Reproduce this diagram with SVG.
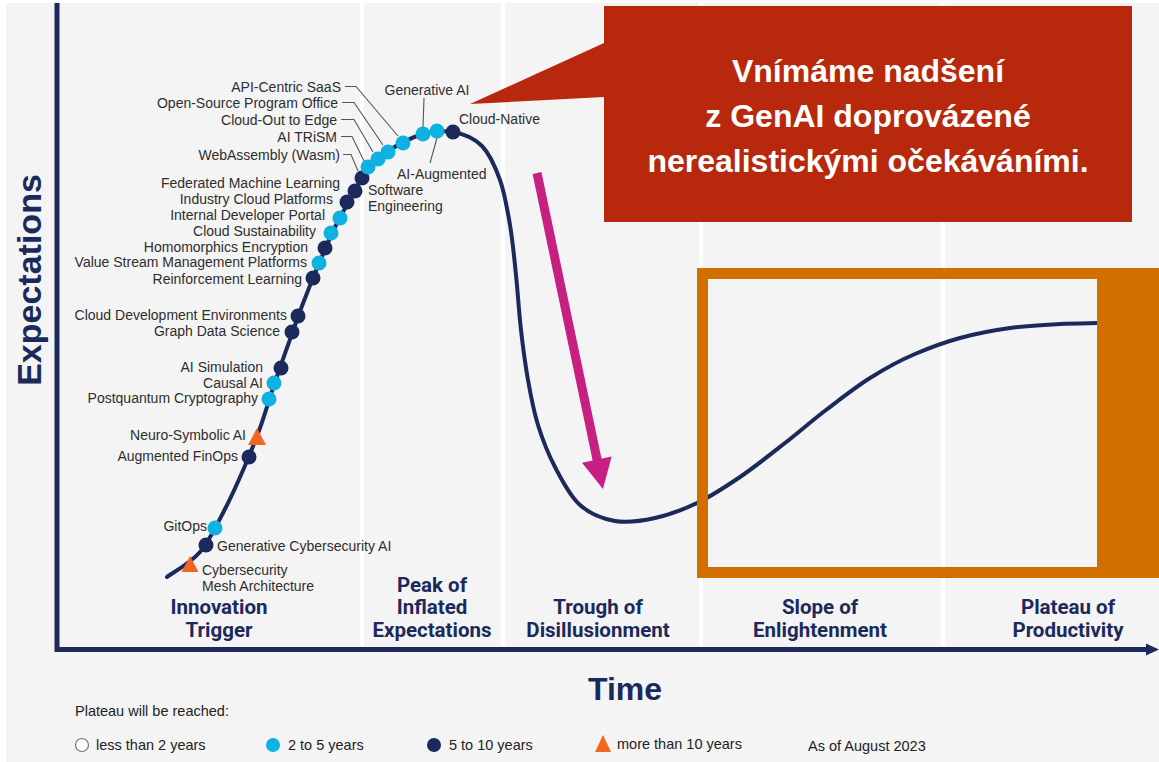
<svg xmlns="http://www.w3.org/2000/svg" width="1159" height="762" viewBox="0 0 1159 762">
<style>
.lbl{font-family:"Liberation Sans",Arial,sans-serif;font-size:14px;fill:#2e2e2e}
.r{text-anchor:end}
.m{text-anchor:middle}
.ph{font-family:Roboto,"Liberation Sans",sans-serif;font-weight:700;font-size:20.5px;fill:#1b2a5b;text-anchor:middle}
.lb{fill:#0db1e2}
.nv{fill:#1b2a5b}
.tri{fill:#f26522}
.ld{fill:none;stroke:#555;stroke-width:1.1}
.leg{font-family:"Liberation Sans",Arial,sans-serif;font-size:14.5px;fill:#222}
.sep{stroke:#fff;stroke-width:4}
.co{font-family:"Liberation Sans",Arial,sans-serif;font-weight:700;font-size:32px;fill:#fff;text-anchor:middle}
.ax{font-family:"Liberation Sans",Arial,sans-serif;font-weight:700;fill:#1b2a5b;text-anchor:middle}
</style>
<rect x="0" y="0" width="1159" height="762" fill="#fff"/>
<rect x="6" y="3" width="1153" height="759" fill="#f4f4f4"/>
<g id="columns">
<line class="sep" x1="362" y1="3" x2="362" y2="646"/>
<line class="sep" x1="503" y1="3" x2="503" y2="646"/>
<line class="sep" x1="701" y1="3" x2="701" y2="646"/>
<line class="sep" x1="943" y1="3" x2="943" y2="646"/>
</g>
<g id="axes">
<path d="M57,3 V649.5 H1149" fill="none" stroke="#1b2a5b" stroke-width="5"/>
<polygon points="1146,643.5 1159,649.5 1146,655.5" fill="#1b2a5b"/>
<text class="ax" font-size="34" transform="translate(41,280) rotate(-90)">Expectations</text>
<text class="ax" x="625" y="700" font-size="32">Time</text>
</g>
<g id="phases">
<text class="ph" x="219" y="614">Innovation</text>
<text class="ph" x="219" y="637">Trigger</text>
<text class="ph" x="432" y="592">Peak of</text>
<text class="ph" x="432" y="614">Inflated</text>
<text class="ph" x="432" y="637">Expectations</text>
<text class="ph" x="598" y="614">Trough of</text>
<text class="ph" x="598" y="637">Disillusionment</text>
<text class="ph" x="820" y="614">Slope of</text>
<text class="ph" x="820" y="637">Enlightenment</text>
<text class="ph" x="1068" y="614">Plateau of</text>
<text class="ph" x="1068" y="637">Productivity</text>
</g>
<g id="curve">
<path fill="none" stroke="#1b2a5b" stroke-width="4" stroke-linecap="round" d="M167,577 C172.5,572.8 190.3,563.3 200,552 C209.7,540.7 217.7,523 225,509 C232.3,495 238.2,481.5 244,468 C249.8,454.5 255,441.8 260,428 C265,414.2 269.3,398.8 274,385 C278.7,371.2 283.3,358.2 288,345 C292.7,331.8 297,319.2 302,306 C307,292.8 312.3,279.5 318,266 C323.7,252.5 330.3,236.7 336,225 C341.7,213.3 346.7,205.5 352,196 C357.3,186.5 362,175.5 368,168 C374,160.5 379.3,156.5 388,151 C396.7,145.5 409.2,138.2 420,135 C430.8,131.8 442.7,130.2 453,132 C463.3,133.8 474.2,138 482,146 C489.8,154 495.3,166.8 500,180 C504.7,193.2 507.3,209.2 510,225 C512.7,240.8 514.2,257.5 516,275 C517.8,292.5 519,312.5 521,330 C523,347.5 525.2,364.2 528,380 C530.8,395.8 533.5,410.5 538,425 C542.5,439.5 548,453.7 555,467 C562,480.3 570,496 580,505 C590,514 602.5,518.8 615,521 C627.5,523.2 641.3,521 655,518 C668.7,515 682.8,509.8 697,503 C711.2,496.2 725.3,487 740,477 C754.7,467 770.7,454.2 785,443 C799.3,431.8 811.8,420.8 826,410 C840.2,399.2 855.2,387.3 870,378 C884.8,368.7 899.2,360.7 915,354 C930.8,347.3 944.2,342.3 960,338 C975.8,333.7 993.3,330.3 1010,328 C1026.7,325.7 1045.5,324.8 1060,324 C1074.5,323.2 1090.8,323.2 1097,323"/>
</g>
<g id="connectors">
<path class="ld" d="M343,154.5 H351 L358,171"/>
<path class="ld" d="M341,136.5 H352 L364,161"/>
<path class="ld" d="M341,119.5 H354 L373,152"/>
<path class="ld" d="M342,102.5 H354 L383,145"/>
<path class="ld" d="M345,86.5 H356 L398,136"/>
<path class="ld" d="M424,98 L423,127"/>
<path class="ld" d="M437,138 L430,163"/>
</g>
<g id="n-cybermesh"><polygon class="tri" points="190,556 181.5,572 198.5,572"/><text class="lbl" x="202" y="574.5">Cybersecurity</text><text class="lbl" x="202" y="590.5">Mesh Architecture</text></g>
<g id="n-gencybai"><circle class="nv" cx="206" cy="545" r="7.5"/><text class="lbl" x="217" y="550.5">Generative Cybersecurity AI</text></g>
<g id="n-gitops"><circle class="lb" cx="215" cy="528" r="7.5"/><text class="lbl r" x="207" y="530.5">GitOps</text></g>
<g id="n-finops"><circle class="nv" cx="249" cy="457" r="7.5"/><text class="lbl r" x="238" y="460.5">Augmented FinOps</text></g>
<g id="n-neuro"><polygon class="tri" points="257,428 248,445 266,445"/><text class="lbl r" x="246" y="439.5">Neuro-Symbolic AI</text></g>
<g id="n-pq"><circle class="lb" cx="269" cy="399" r="7.5"/><text class="lbl r" x="258" y="402.5">Postquantum Cryptography</text></g>
<g id="n-causal"><circle class="lb" cx="274" cy="383" r="7.5"/><text class="lbl r" x="263" y="387.5">Causal AI</text></g>
<g id="n-aisim"><circle class="nv" cx="281" cy="368" r="7.5"/><text class="lbl r" x="263" y="371.5">AI Simulation</text></g>
<g id="n-graph"><circle class="nv" cx="292" cy="332" r="7.5"/><text class="lbl r" x="280" y="335.5">Graph Data Science</text></g>
<g id="n-cde"><circle class="nv" cx="298" cy="316" r="7.5"/><text class="lbl r" x="287" y="319.5">Cloud Development Environments</text></g>
<g id="n-rl"><circle class="nv" cx="313" cy="278" r="7.5"/><text class="lbl r" x="302" y="283.5">Reinforcement Learning</text></g>
<g id="n-vsm"><circle class="lb" cx="319" cy="263" r="7.5"/><text class="lbl r" x="307" y="266.5">Value Stream Management Platforms</text></g>
<g id="n-homo"><circle class="nv" cx="325" cy="248" r="7.5"/><text class="lbl r" x="308" y="251.5">Homomorphics Encryption</text></g>
<g id="n-sust"><circle class="lb" cx="331" cy="233" r="7.5"/><text class="lbl r" x="316" y="235.5">Cloud Sustainability</text></g>
<g id="n-idp"><circle class="lb" cx="340" cy="218" r="7.5"/><text class="lbl r" x="325" y="219.5">Internal Developer Portal</text></g>
<g id="n-icp"><circle class="nv" cx="347" cy="202" r="7.5"/><text class="lbl r" x="333" y="203.5">Industry Cloud Platforms</text></g>
<g id="n-fml"><circle class="nv" cx="355" cy="191" r="7.5"/><text class="lbl r" x="340" y="187.5">Federated Machine Learning</text></g>
<g id="n-wasm"><circle class="nv" cx="362" cy="178" r="7.5"/><text class="lbl r" x="340" y="159.5">WebAssembly (Wasm)</text></g>
<g id="n-trism"><circle class="lb" cx="368" cy="167" r="7.5"/><text class="lbl r" x="337" y="141.5">AI TRiSM</text></g>
<g id="n-edge"><circle class="lb" cx="378" cy="159" r="7.5"/><text class="lbl r" x="337" y="124.5">Cloud-Out to Edge</text></g>
<g id="n-ospo"><circle class="lb" cx="388" cy="152" r="7.5"/><text class="lbl r" x="338" y="107.5">Open-Source Program Office</text></g>
<g id="n-api"><circle class="lb" cx="403" cy="143" r="7.5"/><text class="lbl r" x="341" y="91.5">API-Centric SaaS</text></g>
<g id="n-genai"><circle class="lb" cx="423" cy="134" r="7.5"/><text class="lbl m" x="427" y="94.5">Generative AI</text></g>
<g id="n-aiase"><circle class="lb" cx="437" cy="131" r="7.5"/><text class="lbl" x="397" y="178.5">AI-Augmented</text><text class="lbl" x="368" y="194.5">Software</text><text class="lbl" x="368" y="210.5">Engineering</text></g>
<g id="n-cloudnative"><circle class="nv" cx="453" cy="132" r="7.5"/><text class="lbl" x="459" y="123.5">Cloud-Native</text></g>
<g id="legend">
<text class="leg" x="75" y="716">Plateau will be reached:</text>
<circle cx="82" cy="745" r="6.5" fill="#fff" stroke="#777" stroke-width="1.2"/>
<text class="leg" x="96" y="750">less than 2 years</text>
<circle class="lb" cx="273" cy="745" r="7"/>
<text class="leg" x="288" y="750">2 to 5 years</text>
<circle class="nv" cx="434" cy="745" r="7"/>
<text class="leg" x="449" y="750">5 to 10 years</text>
<polygon class="tri" points="603,735 595,752 611,752"/>
<text class="leg" x="617" y="749">more than 10 years</text>
<text class="leg" x="808" y="751">As of August 2023</text>
</g>
<g id="highlight">
<path fill="#d17000" fill-rule="evenodd" d="M697,268 H1159 V578 H697 Z M708,279 H1097 V567 H708 Z"/>
</g>
<g id="arrow">
<line x1="537" y1="173" x2="598" y2="464" stroke="#c71f82" stroke-width="9"/>
<polygon points="603,489 582,462.7 611.6,456.5" fill="#c71f82"/>
</g>
<g id="callout">
<path fill="#b8280c" d="M604,6 H1132 V222 H604 V97 L470,104 L604,43 Z"/>
<text class="co" x="868" y="82">Vnímáme nadšení</text>
<text class="co" x="868" y="127">z GenAI doprovázené</text>
<text class="co" x="868" y="172">nerealistickými očekáváními.</text>
</g>
</svg>
